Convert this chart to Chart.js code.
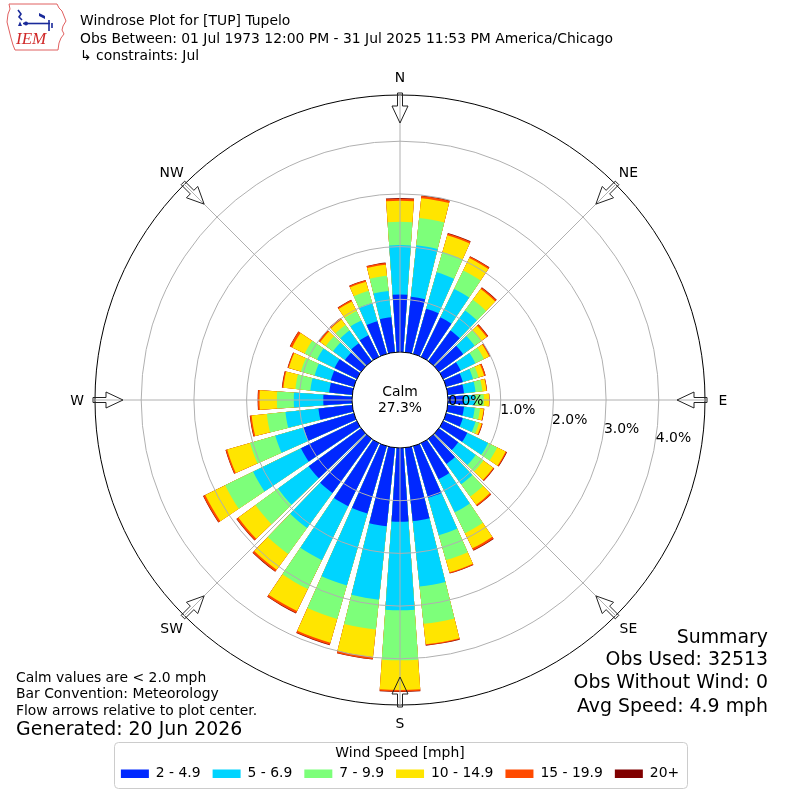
<!DOCTYPE html>
<html><head><meta charset="utf-8">
<script src="https://cdn.jsdelivr.net/npm/chart.js@4/dist/chart.umd.min.js"></script>
<style>html,body{margin:0;padding:0;background:#fff;}canvas{display:block;}</style>
</head><body>
<canvas id="c" width="800" height="800"></canvas>
<script>
// ---------------- DATA ----------------
const directions = [0,10,20,30,40,50,60,70,80,90,100,110,120,130,140,150,160,170,
                    180,190,200,210,220,230,240,250,260,270,280,290,300,310,320,330,340,350];
const speedBins = ['2 - 4.9','5 - 6.9','7 - 9.9','10 - 14.9','15 - 19.9','20+'];
const binColors = ['#0028ff','#00d4ff','#7dff7a','#ffe500','#ff4a00','#800000'];
// percent of observations per direction, per speed bin
const bin_2_49 = [1.09,1.06,0.89,0.835,0.72,0.57,0.37,0.33,0.31,0.30,0.31,0.33,0.51,0.455,0.59,0.76,1.02,1.40,
                  1.40,1.50,1.33,1.33,1.27,1.23,1.18,0.99,0.645,0.545,0.44,0.455,0.47,0.38,0.42,0.455,0.645,0.67];
const bin_5_69 = [0.94,0.98,0.72,0.60,0.47,0.27,0.31,0.20,0.22,0.21,0.205,0.25,0.44,0.41,0.475,0.70,0.74,1.25,
                  1.68,1.40,1.42,1.14,0.82,0.72,1.01,0.56,0.63,0.56,0.36,0.32,0.37,0.28,0.30,0.315,0.36,0.50];
const bin_7_99 = [0.44,0.52,0.40,0.39,0.25,0.15,0.18,0.11,0.13,0.17,0.10,0.07,0.19,0.18,0.29,0.44,0.49,0.71,
                  0.95,0.57,0.66,0.61,0.61,0.53,0.59,0.50,0.355,0.32,0.285,0.27,0.26,0.17,0.13,0.20,0.24,0.29];
const bin_10_149 = [0.40,0.38,0.33,0.26,0.25,0.13,0.11,0.11,0.08,0.10,0.07,0.05,0.18,0.23,0.19,0.32,0.24,0.39,
                    0.56,0.525,0.47,0.465,0.37,0.40,0.42,0.45,0.29,0.33,0.23,0.24,0.265,0.13,0.125,0.20,0.18,0.21];
const bin_15_199 = [0.04,0.04,0.036,0.032,0.034,0.03,0.02,0.027,0.01,0.005,0.011,0.017,0.02,0.02,0.03,0.04,0.02,0.02,
                    0.03,0.04,0.04,0.04,0.04,0.04,0.04,0.03,0.03,0.03,0.023,0.02,0.045,0.03,0.03,0.03,0.03,0.035];
const bin_20p = [0.013,0.012,0.01,0.009,0.008,0.009,0.005,0.004,0.002,0.002,0.002,0.004,0.009,0.007,0.006,0.01,0.005,0.006,
                 0.01,0.008,0.01,0.01,0.01,0.008,0.008,0.005,0.006,0.006,0.006,0.005,0.007,0.006,0.005,0.006,0.005,0.006];
const ringTicks = [0,1,2,3,4];
const compassNames = ['N','NE','E','SE','S','SW','W','NW'];
const calmPct = 27.3;
const headerLines = ['Windrose Plot for [TUP] Tupelo',
  'Obs Between: 01 Jul 1973 12:00 PM - 31 Jul 2025 11:53 PM America/Chicago',
  '\u21b3 constraints: Jul'];
const noteLines = ['Calm values are < 2.0 mph','Bar Convention: Meteorology','Flow arrows relative to plot center.'];
const generatedText = 'Generated: 20 Jun 2026';
const summaryLines = ['Summary','Obs Used: 32513','Obs Without Wind: 0','Avg Speed: 4.9 mph'];

// ---------------- BUILD ----------------
const binValues = [bin_2_49, bin_5_69, bin_7_99, bin_10_149, bin_15_199, bin_20p];
const cumulative = binValues.map((_, k) =>
  directions.map((d, i) => binValues.slice(0, k + 1).reduce((s, arr) => s + arr[i], 0)));

const R_MIN = -0.911;   // calm hole
const R_MAX = 4.877;    // outer frame
const BAR_DEG = 8, GAP_DEG = 2;
const CLEAR = 'rgba(0,0,0,0)';

const datasets = binValues.map((_, k) => ({
  label: speedBins[k],
  data: directions.flatMap((d, i) => [cumulative[k][i], 0]),
  backgroundColor: directions.flatMap(() => [binColors[k], CLEAR]),
  angle: directions.flatMap(() => [BAR_DEG, GAP_DEG]),
  borderWidth: 0
}));

const FONT = '"DejaVu Sans", sans-serif';
Chart.defaults.font.family = FONT;
Chart.defaults.color = '#000';

function text(ctx, s, x, y, size, align, color, font) {
  ctx.font = (font || (size + 'px ' + FONT));
  ctx.fillStyle = color || '#000';
  ctx.textAlign = align || 'left';
  ctx.textBaseline = 'alphabetic';
  ctx.fillText(s, x, y);
}

function drawLogo(ctx) {
  ctx.save();
  ctx.strokeStyle = '#e06060'; ctx.lineWidth = 1;
  const pts = [[9,4],[57,4],[59,8],[62,11],[64,16],[66,21],[63,26],[62,30],[64,34],[61,38],[59,43],[58,50],
               [15,50],[13,45],[11,38],[9,30],[7,22],[8,14],[10,9]];
  ctx.beginPath();
  pts.forEach((p, i) => i ? ctx.lineTo(p[0], p[1]) : ctx.moveTo(p[0], p[1]));
  ctx.closePath(); ctx.stroke();
  ctx.strokeStyle = '#1a2a9a'; ctx.fillStyle = '#1a2a9a'; ctx.lineWidth = 1.6;
  ctx.beginPath(); ctx.moveTo(23,23.5); ctx.lineTo(50,23.5); ctx.stroke();
  ctx.beginPath(); ctx.moveTo(18,10); ctx.lineTo(21,14); ctx.lineTo(19,17); ctx.lineTo(22,20); ctx.stroke();
  ctx.beginPath(); ctx.moveTo(18,26); ctx.lineTo(20,21.5); ctx.lineTo(22,26); ctx.closePath(); ctx.fill();
  ctx.beginPath(); ctx.moveTo(39,13); ctx.lineTo(45,16); ctx.lineTo(45,19); ctx.lineTo(39,16); ctx.closePath(); ctx.fill();
  ctx.beginPath(); ctx.moveTo(49,20); ctx.lineTo(49,31); ctx.moveTo(52,23); ctx.lineTo(52,28); ctx.stroke();
  ctx.beginPath(); ctx.arc(26,23.5,2,0,Math.PI*2); ctx.fill();
  text(ctx, 'IEM', 16, 44, 17, 'left', '#d02828', 'italic 17px "Liberation Serif", "DejaVu Serif", serif');
  ctx.restore();
}

const windrosePlugin = {
  id: 'windrose',
  afterDatasetsDraw(chart) {
    const s = chart.scales.r, ctx = chart.ctx;
    ctx.save();
    ctx.fillStyle = '#fff';
    ctx.beginPath();
    ctx.arc(s.xCenter, s.yCenter, s.getDistanceFromCenterForValue(0), 0, Math.PI * 2);
    ctx.fill();
    ctx.restore();
  },
  afterDraw(chart) {
    const s = chart.scales.r, ctx = chart.ctx;
    const cx = s.xCenter, cy = s.yCenter;
    const r0 = s.getDistanceFromCenterForValue(0);
    const rOut = s.getDistanceFromCenterForValue(R_MAX);
    ctx.save();
    // spokes
    ctx.strokeStyle = '#b0b0b0'; ctx.lineWidth = 1;
    for (let k = 0; k < 8; k++) {
      const a = k * Math.PI / 4;
      ctx.beginPath();
      ctx.moveTo(cx + r0 * Math.sin(a), cy - r0 * Math.cos(a));
      ctx.lineTo(cx + rOut * Math.sin(a), cy - rOut * Math.cos(a));
      ctx.stroke();
    }
    // flow arrows (pointing to center)
    ctx.strokeStyle = '#222'; ctx.lineWidth = 1;
    const shape = [[-2.5, rOut + 2], [2.5, rOut + 2], [2.5, rOut - 11], [8, rOut - 11], [0, rOut - 28], [-8, rOut - 11], [-2.5, rOut - 11]];
    for (let k = 0; k < 8; k++) {
      const a = k * Math.PI / 4, sn = Math.sin(a), cs = Math.cos(a);
      ctx.beginPath();
      shape.forEach((p, i) => {
        const x = cx + p[1] * sn + p[0] * cs, y = cy - p[1] * cs + p[0] * sn;
        i ? ctx.lineTo(x, y) : ctx.moveTo(x, y);
      });
      ctx.closePath(); ctx.stroke();
      // compass label
      const rl = rOut + 18;
      text(ctx, compassNames[k], cx + rl * sn, cy - rl * cs + 5.1, 13.9, 'center');
    }
    // ring labels
    const ang = 10 * Math.PI / 180;
    ringTicks.forEach(v => {
      const rr = s.getDistanceFromCenterForValue(v);
      text(ctx, v.toFixed(1) + '%', cx + rr * Math.cos(ang) + 1, cy + rr * Math.sin(ang) - 3.1, 13.9, 'left');
    });
    // calm
    text(ctx, 'Calm', cx, cy - 4.2, 13.9, 'center');
    text(ctx, calmPct.toFixed(1) + '%', cx, cy + 12.4, 13.9, 'center');
    // header
    headerLines.forEach((l, i) => text(ctx, l, 80, 25 + i * 17.7, 13.9, 'left'));
    drawLogo(ctx);
    // notes
    noteLines.forEach((l, i) => text(ctx, l, 16, [681.5, 697.7, 715][i], 13.9, 'left'));
    text(ctx, generatedText, 16, 735, 18.9, 'left');
    summaryLines.forEach((l, i) => text(ctx, l, 768, [642.7, 665.3, 688.3, 711.7][i], 18.9, 'right'));
    // legend frame
    ctx.strokeStyle = '#cccccc'; ctx.lineWidth = 1;
    ctx.beginPath();
    if (ctx.roundRect) ctx.roundRect(114.5, 742.5, 573, 46, 4); else ctx.rect(114.5, 742.5, 573, 46);
    ctx.stroke();
    ctx.restore();
  }
};

new Chart(document.getElementById('c'), {
  type: 'polarArea',
  data: { labels: directions.flatMap(d => [d + '\u00b0', '']), datasets },
  options: {
    responsive: false,
    animation: false,
    devicePixelRatio: 1,
    layout: { padding: { left: 95, right: 95, top: 95, bottom: 9.42 } },
    elements: { arc: { borderWidth: 0 } },
    scales: {
      r: {
        type: 'radialLinear',
        min: R_MIN, max: R_MAX,
        startAngle: -BAR_DEG / 2,
        ticks: { display: false },
        angleLines: { display: false },
        pointLabels: { display: false },
        grid: {
          z: 1, circular: true, lineWidth: 1,
          color: c => (c.tick && (c.tick.value === 0 || c.tick.value === R_MAX)) ? '#000' : '#b0b0b0'
        },
        afterBuildTicks: sc => { sc.ticks = ringTicks.concat([R_MAX]).map(v => ({ value: v })); }
      }
    },
    plugins: {
      tooltip: { enabled: false },
      legend: {
        position: 'bottom',
        title: { display: true, text: 'Wind Speed [mph]', color: '#000', font: { size: 13.9 }, padding: { top: 41, bottom: -8 } },
        labels: {
          boxWidth: 28, boxHeight: 8.5, padding: 12, color: '#000', font: { size: 13.9 },
          generateLabels: () => speedBins.map((t, i) => ({
            text: t, fillStyle: binColors[i], strokeStyle: binColors[i], lineWidth: 0, hidden: false, datasetIndex: i
          }))
        }
      }
    }
  },
  plugins: [windrosePlugin]
});
</script>
</body></html>
